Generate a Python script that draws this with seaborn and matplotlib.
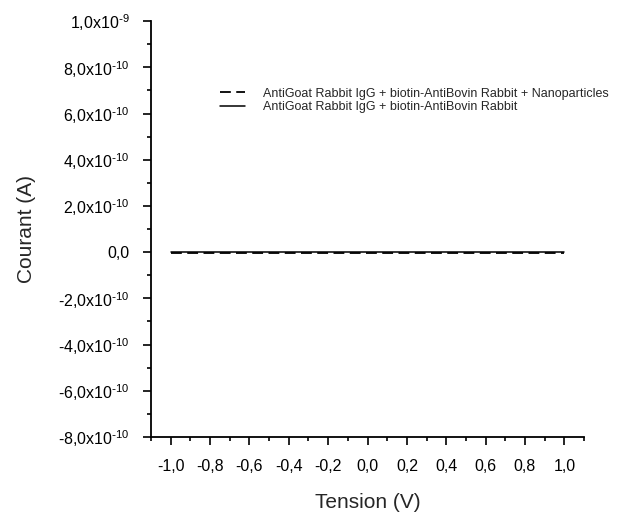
import numpy as np
import pandas as pd
import matplotlib
matplotlib.use('Agg')
import matplotlib.pyplot as plt
import seaborn as sns
from matplotlib.ticker import FixedLocator, FuncFormatter

# data (currents are ~0 at this scale)
tension = [-1.0, -0.8, -0.6, -0.4, -0.2, 0.0, 0.2, 0.4, 0.6, 0.8, 1.0]
courant_nano = [-3e-12, -3e-12, -3e-12, -3e-12, -3e-12, -3e-12, -3e-12, -3e-12, -3e-12, -3e-12, -3e-12]
courant_ref = [0.0, 0.0, 0.0, 0.0, 0.0, 0.0, 0.0, 0.0, 0.0, 0.0, 0.0]
label_nano = 'AntiGoat Rabbit IgG + biotin-AntiBovin Rabbit + Nanoparticles'
label_ref = 'AntiGoat Rabbit IgG + biotin-AntiBovin Rabbit'

# axis ticks
x_major = [-1.0, -0.8, -0.6, -0.4, -0.2, 0.0, 0.2, 0.4, 0.6, 0.8, 1.0]
x_minor = [-1.1, -0.9, -0.7, -0.5, -0.3, -0.1, 0.1, 0.3, 0.5, 0.7, 0.9, 1.1]
y_major = [-8e-10, -6e-10, -4e-10, -2e-10, 0.0, 2e-10, 4e-10, 6e-10, 8e-10, 1e-9]
y_minor = [-7e-10, -5e-10, -3e-10, -1e-10, 1e-10, 3e-10, 5e-10, 7e-10, 9e-10]

sns.set_style('ticks')
plt.rcParams['font.family'] = ['Liberation Sans', 'DejaVu Sans']
plt.rcParams['mathtext.default'] = 'regular'

fig = plt.figure(figsize=(6.19, 5.14), dpi=100)
ax = fig.add_axes([0.244, 0.1498, 0.6995, 0.8092])

sns.lineplot(x=tension, y=courant_nano, ax=ax, color='black', linewidth=1.3,
             linestyle=(0, (6, 3)), label=label_nano)
sns.lineplot(x=tension, y=courant_ref, ax=ax, color='black', linewidth=1.1,
             label=label_ref)

ax.set_xlim(-1.1, 1.1)
ax.set_ylim(-8e-10, 1e-9)

ax.xaxis.set_major_locator(FixedLocator(x_major))
ax.xaxis.set_minor_locator(FixedLocator(x_minor))
ax.yaxis.set_major_locator(FixedLocator(y_major))
ax.yaxis.set_minor_locator(FixedLocator(y_minor))


def fmt_x(v, pos):
    return f'{v:.1f}'.replace('.', ',').replace('-0,0', '0,0')


def fmt_y(v, pos):
    if abs(v) < 1e-14:
        return '0,0'
    exp = int(np.floor(np.log10(abs(v)) + 1e-9))
    mant = v / 10 ** exp
    return f'{mant:.1f}'.replace('.', ',') + r'x10$^{\text{-}' + str(-exp) + '}$'


ax.xaxis.set_major_formatter(FuncFormatter(fmt_x))
ax.yaxis.set_major_formatter(FuncFormatter(fmt_y))

ax.tick_params(which='major', direction='out', length=5.5, width=1.2, labelsize=11.5, colors='black')
ax.tick_params(which='minor', direction='out', length=3, width=1.2, colors='black')
ax.tick_params(axis='x', pad=10)
ax.tick_params(axis='y', pad=10)

for side in ['top', 'right']:
    ax.spines[side].set_visible(False)
for side in ['left', 'bottom']:
    ax.spines[side].set_linewidth(1.3)
    ax.spines[side].set_color('black')

ax.set_xlabel('Tension (V)', fontsize=15, labelpad=14)
ax.set_ylabel('Courant (A)', fontsize=15, labelpad=16)

leg = ax.legend(loc='upper left', bbox_to_anchor=(0.16, 0.84), frameon=False,
                fontsize=9, handlelength=2.0, handletextpad=1.4,
                borderaxespad=0, borderpad=0, labelspacing=0.15)

fig.savefig('out.png', dpi=100)
